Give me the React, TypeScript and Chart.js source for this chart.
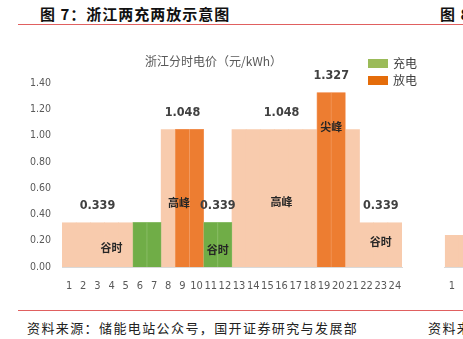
import React, { useEffect, useRef } from 'react';
import { Chart, registerables } from 'chart.js';

Chart.register(...registerables);

const hours = ['1', '2', '3', '4', '5', '6', '7', '8', '9', '10', '11', '12', '13', '14', '15', '16', '17', '18', '19', '20', '21', '22', '23', '24'];
const priceValues = [0.339, 0.339, 0.339, 0.339, 0.339, 0.339, 0.339, 1.048, 1.048, 1.048, 0.339, 0.339, 1.048, 1.048, 1.048, 1.048, 1.048, 1.048, 1.327, 1.327, 1.048, 0.339, 0.339, 0.339];
const chargeValues = [null, null, null, null, null, 0.339, 0.339, null, null, null, 0.339, 0.339, null, null, null, null, null, null, null, null, null, null, null, null];
const dischargeValues = [null, null, null, null, null, null, null, null, 1.048, 1.048, null, null, null, null, null, null, null, null, 1.327, 1.327, null, null, null, null];
const valueLabels = [
  { text: '0.339', at: 2, value: 0.339 },
  { text: '1.048', at: 8, value: 1.048 },
  { text: '0.339', at: 10.5, value: 0.339 },
  { text: '1.048', at: 15, value: 1.048 },
  { text: '1.327', at: 18.5, value: 1.327 },
  { text: '0.339', at: 22, value: 0.339 },
];
const periodLabels = [
  { text: '谷时', at: 3, value: 0.145 },
  { text: '高峰', at: 7.75, value: 0.49 },
  { text: '谷时', at: 10.5, value: 0.13 },
  { text: '高峰', at: 15, value: 0.495 },
  { text: '尖峰', at: 18.5, value: 1.065 },
  { text: '谷时', at: 22, value: 0.19 },
];
const legendItems = [
  { text: '充电', color: '#9BBB59' },
  { text: '放电', color: '#E46C0A' },
];
const chartTitle = '浙江分时电价（元/kWh）';
// next figure (partially visible at the right edge)
const nextHours = ['1', '2', '3', '4', '5', '6', '7', '8', '9', '10', '11', '12', '13', '14', '15', '16', '17', '18', '19', '20', '21', '22', '23', '24'];
const nextValues = [0.243, 0.243, 0.243, 0.243];

const NUM_FONT = '"Liberation Sans Narrow", "DejaVu Sans Condensed", Arial, sans-serif';
const CJK_FONT = '"Noto Sans CJK SC", "Noto Sans", sans-serif';

const PEACH = '#F8CBAD';
const GREEN = '#70AD47';
const GREEN_EDGE = '#93C373';
const ORANGE = '#ED7D31';
const ORANGE_EDGE = '#F4A06A';

const labelsPlugin = {
  id: 'labelsPlugin',
  afterDatasetsDraw(chart: any) {
    const { ctx, scales } = chart;
    const x = scales.x;
    const y = scales.y;
    ctx.save();
    ctx.textAlign = 'center';
    ctx.textBaseline = 'middle';
    ctx.fillStyle = '#404040';
    ctx.font = `bold 12.5px ${NUM_FONT}`;
    valueLabels.forEach((l) => {
      ctx.fillText(l.text, x.getPixelForValue(l.at), y.getPixelForValue(l.value) - 17);
    });
    ctx.fillStyle = '#262626';
    ctx.font = `bold 11px ${CJK_FONT}`;
    periodLabels.forEach((l) => {
      ctx.fillText(l.text, x.getPixelForValue(l.at), y.getPixelForValue(l.value));
    });
    // title
    ctx.fillStyle = '#595959';
    ctx.font = `12px ${CJK_FONT}`;
    ctx.fillText(chartTitle, 213.5, 61);
    // legend
    ctx.textAlign = 'left';
    ctx.font = `12px ${CJK_FONT}`;
    legendItems.forEach((it, i) => {
      const top = 59 + i * 17;
      ctx.fillStyle = it.color;
      ctx.fillRect(368, top, 20, 9);
      ctx.fillStyle = '#404040';
      ctx.fillText(it.text, 393, top + 4.5);
    });
    ctx.restore();
  },
};

function MainChart() {
  const ref = useRef<HTMLCanvasElement>(null);
  useEffect(() => {
    if (!ref.current) return;
    const chart = new Chart(ref.current, {
      type: 'bar',
      data: {
        labels: hours,
        datasets: [
          {
            label: '充电',
            data: chargeValues as any,
            backgroundColor: GREEN,
            borderColor: GREEN_EDGE,
            borderWidth: 0.6,
            borderSkipped: 'bottom',
            grouped: false,
            order: 1,
            categoryPercentage: 1,
            barPercentage: 1,
          },
          {
            label: '放电',
            data: dischargeValues as any,
            backgroundColor: ORANGE,
            borderColor: ORANGE_EDGE,
            borderWidth: 0.6,
            borderSkipped: 'bottom',
            grouped: false,
            order: 1,
            categoryPercentage: 1,
            barPercentage: 1,
          },
          {
            label: '电价',
            data: priceValues,
            backgroundColor: PEACH,
            borderWidth: 0,
            grouped: false,
            order: 2,
            categoryPercentage: 1,
            barPercentage: 1.05,
          },
        ],
      },
      options: {
        responsive: false,
        animation: false,
        layout: { padding: { top: 83, right: 25, bottom: 0, left: 0 } },
        plugins: { legend: { display: false }, tooltip: { enabled: false }, title: { display: false } },
        scales: {
          x: {
            grid: { display: false, drawTicks: false },
            border: { display: true, color: '#D9D9D9' },
            ticks: { color: '#595959', font: { family: NUM_FONT, size: 11 }, padding: 13, autoSkip: false, maxRotation: 0 },
            afterFit: (s: any) => { s.height = 33; },
          },
          y: {
            min: 0,
            max: 1.4,
            grid: { display: false, drawTicks: false },
            border: { display: false },
            ticks: {
              stepSize: 0.2,
              color: '#595959',
              font: { family: NUM_FONT, size: 10.5 },
              padding: 11,
              callback: (v: any) => Number(v).toFixed(2),
            },
            afterFit: (s: any) => { s.width = 62; },
          },
        },
      },
      plugins: [labelsPlugin],
    });
    return () => chart.destroy();
  }, []);
  return <canvas ref={ref} width={427} height={300} style={{ position: 'absolute', left: 0, top: 0 }} />;
}

function NextChart() {
  const ref = useRef<HTMLCanvasElement>(null);
  useEffect(() => {
    if (!ref.current) return;
    const chart = new Chart(ref.current, {
      type: 'bar',
      data: {
        labels: nextHours,
        datasets: [
          { data: nextValues, backgroundColor: PEACH, borderWidth: 0, categoryPercentage: 1, barPercentage: 1.05 },
        ],
      },
      options: {
        responsive: false,
        animation: false,
        layout: { padding: { top: 83, right: 0, bottom: 0, left: 0 } },
        plugins: { legend: { display: false }, tooltip: { enabled: false } },
        scales: {
          x: {
            grid: { display: false, drawTicks: false },
            border: { display: true, color: '#D9D9D9' },
            ticks: { color: '#595959', font: { family: NUM_FONT, size: 11 }, padding: 13, autoSkip: false, maxRotation: 0 },
            afterFit: (s: any) => { s.height = 33; },
          },
          y: { display: false, min: 0, max: 1.4 },
        },
      },
    });
    return () => chart.destroy();
  }, []);
  return <canvas ref={ref} width={360} height={300} style={{ position: 'absolute', left: 436, top: 0 }} />;
}

export default function App() {
  return (
    <div style={{ position: 'absolute', left: 0, top: 0, width: 463, height: 339, overflow: 'hidden', background: '#fff' }}>
      <div style={{ position: 'absolute', left: 40, top: 4, font: `bold 15px ${CJK_FONT}`, letterSpacing: 1, color: '#111', whiteSpace: 'nowrap', lineHeight: '20px' }}>
        图 7：浙江两充两放示意图
      </div>
      <div style={{ position: 'absolute', left: 440, top: 4, font: `bold 15px ${CJK_FONT}`, letterSpacing: 1, color: '#111', whiteSpace: 'nowrap', lineHeight: '20px' }}>
        图 8
      </div>
      <div style={{ position: 'absolute', left: 18, right: 0, top: 24, height: 1, background: '#E06060' }} />
      <MainChart />
      <NextChart />
      <div style={{ position: 'absolute', left: 18, right: 0, top: 310, height: 1, background: '#E06060' }} />
      <div style={{ position: 'absolute', left: 27, top: 318, font: `13px ${CJK_FONT}`, letterSpacing: 1.4, color: '#222', whiteSpace: 'nowrap', lineHeight: '20px' }}>
        资料来源：储能电站公众号，国开证券研究与发展部
      </div>
      <div style={{ position: 'absolute', left: 428, top: 318, font: `13px ${CJK_FONT}`, letterSpacing: 1.4, color: '#222', whiteSpace: 'nowrap', lineHeight: '20px' }}>
        资料来源
      </div>
    </div>
  );
}
